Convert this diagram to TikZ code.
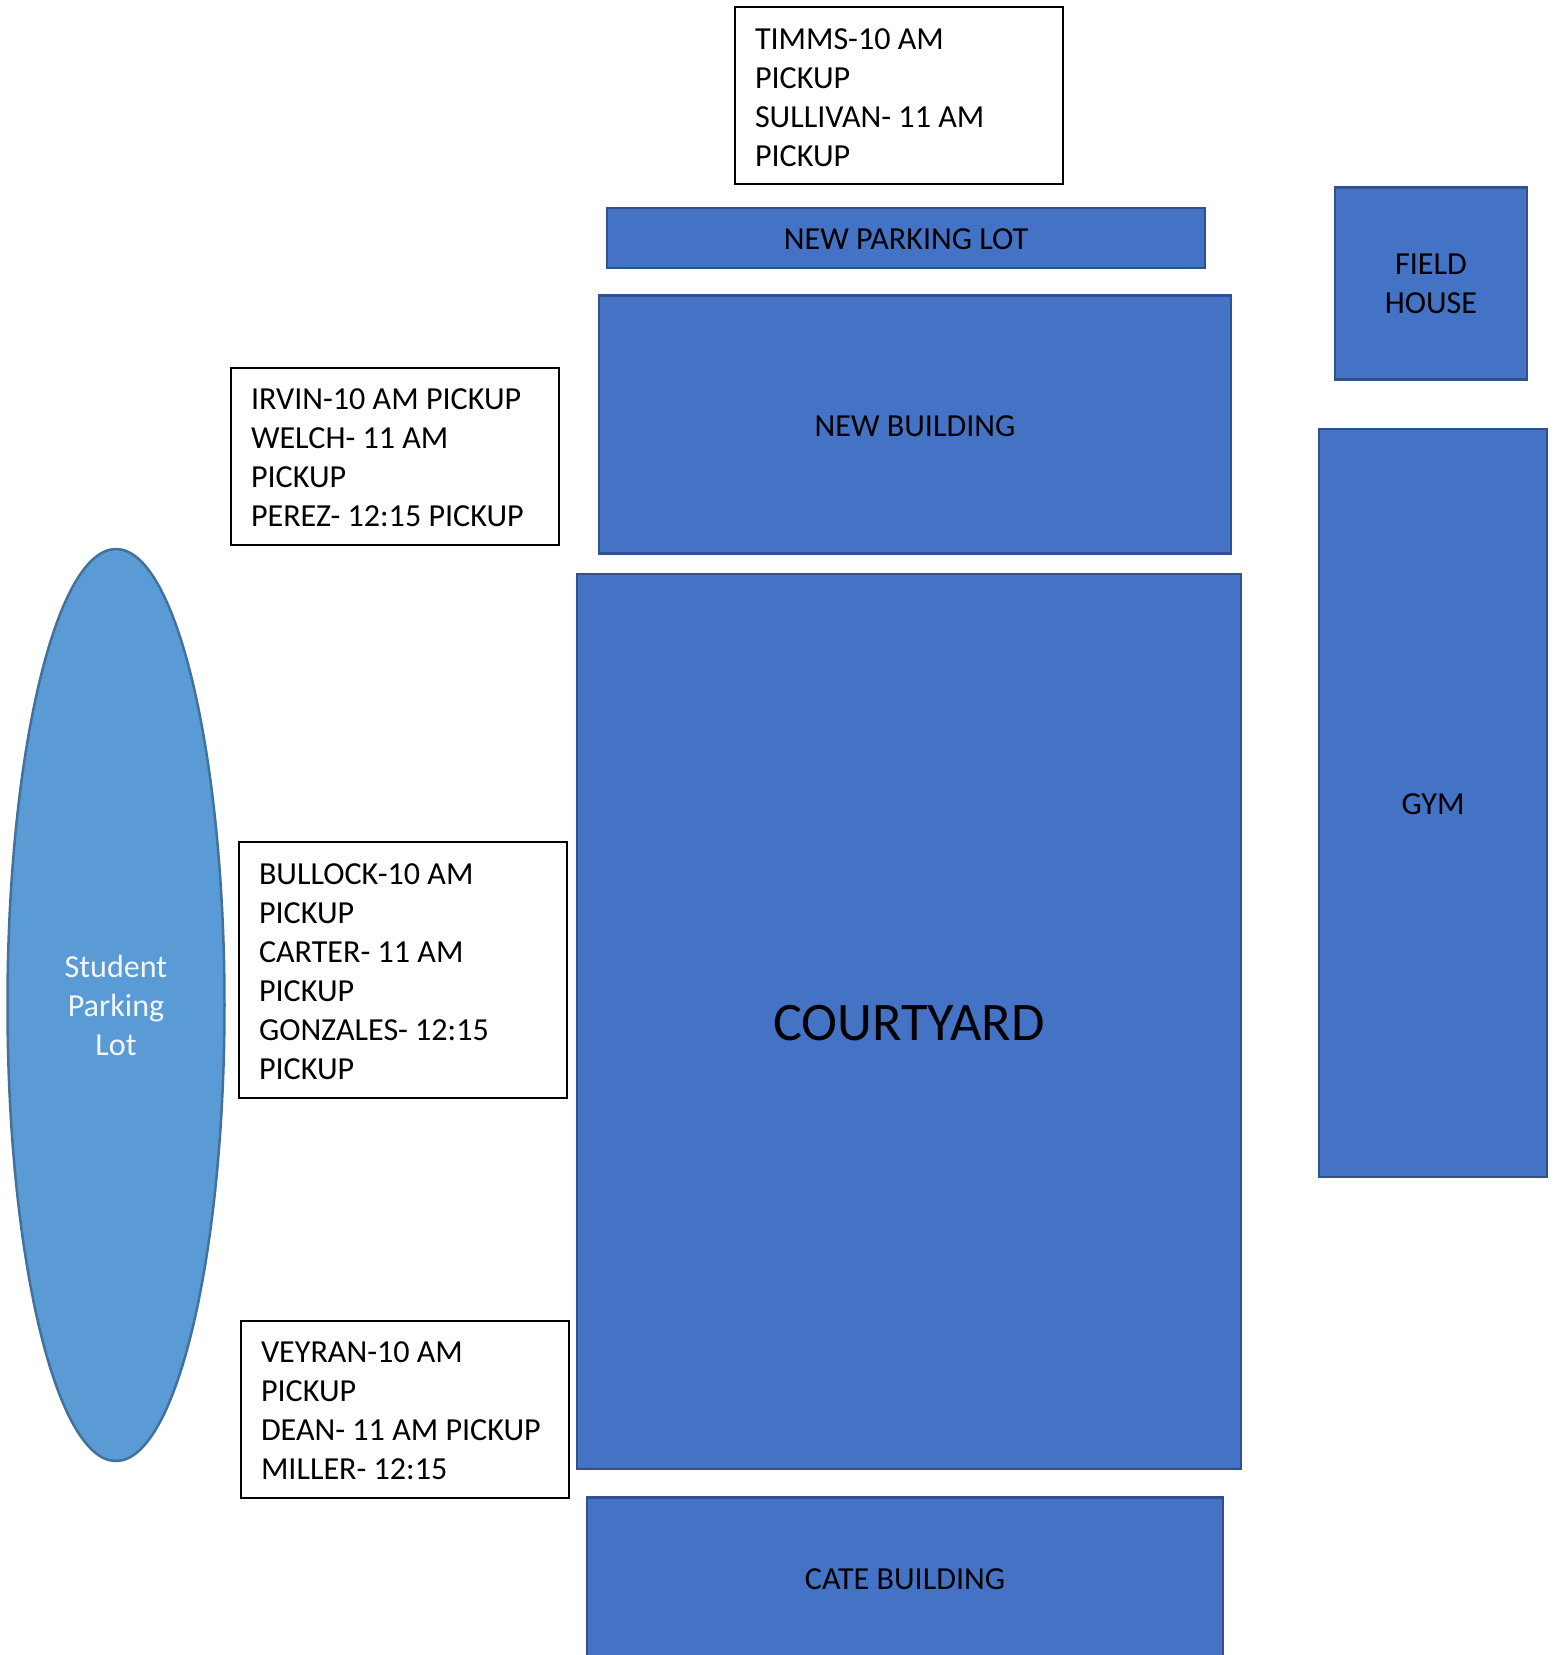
\documentclass[tikz,border=0pt]{standalone}
\usepackage{fontspec}
\setmainfont{Carlito}
\usetikzlibrary{shapes.geometric}
\tikzset{
  x=1pt,y=-1pt,
  lbl/.style={font=\fontsize{32.1}{39}\selectfont,align=center,inner sep=0pt,text=black,execute at begin node={\rule{0pt}{24pt}}},
  bluebox/.style={lbl,rectangle,draw=blueedge,fill=bluefill,line width=2.5pt},
  notebox/.style={rectangle,draw=black,fill=white,line width=2pt,font=\fontsize{32.1}{39}\selectfont,align=flush left,inner xsep=20pt,inner ysep=0pt,text width=288pt,minimum height=177pt,text=black,execute at begin node={\rule{0pt}{25pt}}},
}
\definecolor{bluefill}{HTML}{4472C4}
\definecolor{blueedge}{HTML}{2F528F}
\definecolor{ellfill}{HTML}{5B9BD5}
\definecolor{elledge}{HTML}{41719C}
\begin{document}
\begin{tikzpicture}
\useasboundingbox (0,0) rectangle (1561,1655);
\node[notebox,execute at begin node={\rule{0pt}{27pt}}] (timms) at (899,95) {TIMMS-10 AM\\PICKUP\\SULLIVAN- 11 AM\\PICKUP};
\node[bluebox,minimum width=598pt,minimum height=60pt] (parking) at (906,238) {NEW PARKING LOT};
\node[bluebox,minimum width=632pt,minimum height=258pt] (newb) at (915,424.5) {NEW BUILDING};
\node[bluebox,minimum width=192pt,minimum height=192pt,execute at begin node={\rule{0pt}{27pt}}] (field) at (1431,283.5) {FIELD\\HOUSE};
\node[bluebox,minimum width=228pt,minimum height=748pt] (gym) at (1433,803) {GYM};
\node[bluebox,minimum width=664pt,minimum height=895pt,font=\fontsize{54.3}{62}\selectfont,execute at begin node={\rule{0pt}{39pt}}] (court) at (909,1021.5) {COURTYARD};
\node[bluebox,minimum width=636pt,minimum height=161pt] (cate) at (905,1578) {CATE BUILDING};
\node[lbl,ellipse,draw=elledge,fill=ellfill,line width=2.5pt,line join=round,minimum width=217pt,minimum height=912pt,text=white!92!ellfill,execute at begin node={\rule{0pt}{25pt}}] (lot) at (116,1005) {Student\\Parking\\Lot};
\node[notebox] (irvin) at (395,456) {IRVIN-10 AM PICKUP\\WELCH- 11 AM\\PICKUP\\PEREZ- 12:15 PICKUP};
\node[notebox,minimum height=256pt] (bullock) at (403,970) {BULLOCK-10 AM\\PICKUP\\CARTER- 11 AM\\PICKUP\\GONZALES- 12:15\\PICKUP};
\node[notebox] (veyran) at (405,1409) {VEYRAN-10 AM\\PICKUP\\DEAN- 11 AM PICKUP\\MILLER- 12:15};
\end{tikzpicture}
\end{document}
